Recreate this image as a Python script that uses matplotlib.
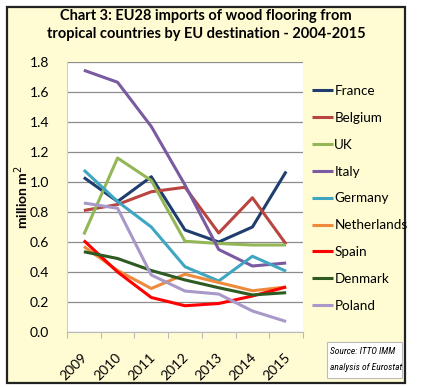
import matplotlib
matplotlib.use("Agg")
import matplotlib.pyplot as plt
from matplotlib.patches import Rectangle

years = ["2009", "2010", "2011", "2012", "2013", "2014", "2015"]
france = [1.03, 0.87, 1.035, 0.68, 0.60, 0.70, 1.07]
belgium = [0.81, 0.85, 0.935, 0.965, 0.66, 0.895, 0.585]
uk = [0.65, 1.16, 1.01, 0.605, 0.59, 0.58, 0.58]
italy = [1.745, 1.665, 1.37, 0.98, 0.55, 0.44, 0.46]
germany = [1.08, 0.87, 0.70, 0.435, 0.34, 0.505, 0.405]
netherlands = [0.57, 0.41, 0.29, 0.385, 0.33, 0.275, 0.30]
spain = [0.61, 0.40, 0.23, 0.175, 0.19, 0.24, 0.30]
denmark = [0.535, 0.49, 0.41, 0.347, 0.295, 0.247, 0.262]
poland = [0.86, 0.825, 0.38, 0.273, 0.253, 0.14, 0.07]

series = [
    ("France", france, "#1F3D6E"),
    ("Belgium", belgium, "#B8453F"),
    ("UK", uk, "#93B656"),
    ("Italy", italy, "#7A5AA0"),
    ("Germany", germany, "#3FA6C2"),
    ("Netherlands", netherlands, "#EE8A3C"),
    ("Spain", spain, "#FF0000"),
    ("Denmark", denmark, "#2E5B22"),
    ("Poland", poland, "#A899C8"),
]

FONT = "Lato"
W, H = 421, 387
bg = "#FFFBD3"
fig = plt.figure(figsize=(W / 100, H / 100), dpi=100)
fig.patch.set_facecolor("white")

# outer frame
fig.patches.append(Rectangle((7 / W, 1 - 383 / H), (405 - 7) / W, (383 - 7) / H,
                             transform=fig.transFigure, facecolor=bg,
                             edgecolor="#222222", linewidth=1.6, zorder=-10))

ax = fig.add_axes([67 / W, 1 - 332 / H, (303 - 67) / W, (332 - 62) / H])
ax.set_facecolor("white")
x = list(range(len(years)))
for name, vals, col in series:
    ax.plot(x, vals, color=col, lw=2.2, label=name, solid_capstyle="butt")

ax.set_xlim(-0.5, len(years) - 0.5)
ax.set_ylim(0, 1.8)
ax.set_yticks([i * 0.2 for i in range(10)])
ax.set_yticklabels([f"{i * 0.2:.1f}" for i in range(10)], fontsize=10, family=FONT)
ax.yaxis.grid(True, color="#8C8C8C", lw=0.9)
ax.set_axisbelow(True)
ax.tick_params(axis="y", length=0, pad=13)
ax.set_xticks([i - 0.5 for i in range(len(years) + 1)])
ax.set_xticklabels([""] * (len(years) + 1))
ax.tick_params(axis="x", length=4, color="#BBBBBB", direction="out")
for i, yr in enumerate(years):
    ax.text(i + 0.18, -0.13, yr, rotation=45, ha="right", va="top",
            fontsize=10, family=FONT, transform=ax.transData)
for s in ["top", "right"]:
    ax.spines[s].set_visible(False)
ax.spines["left"].set_color("#D8D2B0")
ax.spines["bottom"].set_color("#BBBBBB")

fig.text(22 / W, 1 - 197 / H, "million m$^2$", rotation=90, ha="center", va="center",
         fontsize=10, fontweight="bold", family=FONT)

fig.text(206 / W, 1 - 16 / H, "Chart 3: EU28 imports of wood flooring from",
         ha="center", va="center", fontsize=10.5, fontweight="bold", family=FONT)
fig.text(206 / W, 1 - 34 / H, "tropical countries by EU destination - 2004-2015",
         ha="center", va="center", fontsize=10.5, fontweight="bold", family=FONT)

leg = fig.legend(loc="upper left", bbox_to_anchor=(300 / W, 1 - 73 / H), frameon=False,
                 prop={"family": FONT, "size": 9.7},
                 handlelength=1.55, handletextpad=0.1, labelspacing=1.1)

fig.patches.append(Rectangle((327 / W, 1 - 378 / H), (402 - 327) / W, (378 - 342) / H,
                             transform=fig.transFigure, facecolor="white",
                             edgecolor="#BBBBBB", linewidth=0.8, zorder=1))
src_font = ["Roboto Condensed", "Liberation Sans Narrow", FONT]
fig.text(330 / W, 1 - 352 / H, "Source: ITTO IMM", ha="left", va="center",
         fontsize=6.8, style="italic", family=src_font, zorder=2)
fig.text(330 / W, 1 - 368 / H, "analysis of Eurostat", ha="left", va="center",
         fontsize=6.8, style="italic", family=src_font, zorder=2)

fig.savefig("out.png", dpi=100)
